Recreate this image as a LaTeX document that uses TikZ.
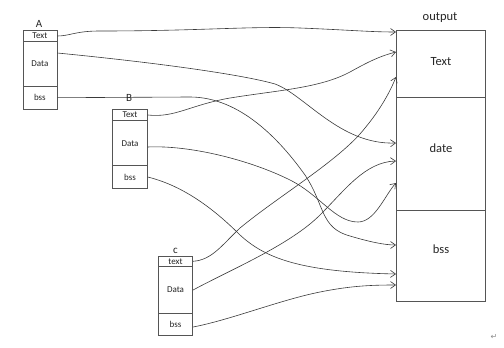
\documentclass[tikz,border=0pt]{standalone}
\usepackage{fontspec}
\setmainfont{Carlito}
\newfontfamily\symfont{DejaVu Sans}
\usetikzlibrary{arrows.meta}
\definecolor{boxc}{HTML}{555555}
\definecolor{linec}{HTML}{3A3A3A}
\tikzset{
  row/.style={draw=boxc, line width=0.8pt, fill=white, inner sep=0pt, font=\fontsize{9}{10}\selectfont, text=black!85},
  orow/.style={draw=boxc, line width=0.9pt, fill=white, inner sep=0pt, minimum width=89.4pt, font=\fontsize{12.5}{14}\selectfont, text=black!85},
  lbl/.style={inner sep=0pt, font=\fontsize{11}{12}\selectfont, text=black!85},
  conn/.style={draw=linec, line width=0.6pt, -{Straight Barb[length=5pt,width=7pt]}},
}
\begin{document}
\begin{tikzpicture}[x=1pt, y=-1pt]
\useasboundingbox (0,0) rectangle (504,348);
% box A
\node[row, minimum width=34pt, minimum height=10.6pt] (aT) at (39.9,36) {Text};
\node[row, minimum width=34pt, minimum height=45pt] (aD) at (39.9,63.8) {Data};
\node[row, minimum width=34pt, minimum height=22.7pt] (aB) at (39.9,97.7) {bss};
\node[lbl] (la) at (39,24) {A};
% box B
\node[row, minimum width=34.6pt, minimum height=11.4pt] (bT) at (130,115) {Text};
\node[row, minimum width=34.6pt, minimum height=45pt] (bD) at (130,143.2) {Data};
\node[row, minimum width=34.6pt, minimum height=22.6pt] (bB) at (130,177) {bss};
% box C
\node[row, minimum width=34.4pt, minimum height=10.7pt] (cT) at (175.5,261.3) {text};
\node[row, minimum width=34.4pt, minimum height=46.6pt] (cD) at (175.5,290) {Data};
\node[row, minimum width=34.4pt, minimum height=21.7pt] (cB) at (175.5,324.2) {bss};
\node[lbl] (lc) at (175.5,251) {c};
% output
\node[orow, minimum height=67pt] (oT) at (441,64.2) {};
\node[orow, minimum height=113pt] (oD) at (441,154.2) {};
\node[orow, minimum height=91pt] (oB) at (441,256.2) {};
\node[lbl, font=\fontsize{12.5}{14}\selectfont] (oTt) at (441,62) {Text};
\node[lbl, font=\fontsize{12.5}{14}\selectfont] (oDt) at (441,148) {date};
\node[lbl, font=\fontsize{12.5}{14}\selectfont] (oBt) at (441,249) {bss};
\node[lbl, font=\fontsize{12.5}{14}\selectfont] (lo) at (440,18) {output};
\node[lbl, font=\symfont\fontsize{8}{9}\selectfont, text=black!45] (ret) at (494,337) {↵};
% end points on output edge
\coordinate (e1) at (396,32);
\coordinate (e2) at (396,52);
\coordinate (e3) at (396,77);
\coordinate (e4) at (396,143);
\coordinate (e5) at (396,161);
\coordinate (e6) at (396,183);
\coordinate (e7) at (396,245);
\coordinate (e8) at (396,274);
\coordinate (e9) at (396,285);
% connectors
\draw[conn] (aT.east) .. controls (70,36) and (75,31) .. (100,31) .. controls (200,31) and (250,26) .. (300,28) .. controls (350,30) and (370,32) .. (e1);
\draw[conn] (aD.east |- 0,53) .. controls (150,62) and (240,74) .. (275,84) .. controls (305,95) and (340,145) .. (e4);
\draw[conn] (aB.east) -- (190,97) .. controls (240,97) and (280,140) .. (305,175) .. controls (325,205) and (320,228) .. (350,236) .. controls (370,242) and (385,245) .. (e7);
\node[lbl] (lb) at (129,98) {B};
\draw[conn] (bT.east) .. controls (175,118) and (190,105) .. (230,98) .. controls (280,90) and (320,88) .. (350,72) .. controls (368,62) and (380,56) .. (e2);
\draw[conn] (bD.east |- 0,147) .. controls (190,145) and (250,160) .. (290,180) .. controls (320,195) and (335,222) .. (358,222) .. controls (375,222) and (385,195) .. (e6);
\draw[conn] (bB.east) .. controls (180,185) and (210,205) .. (240,235) .. controls (265,258) and (300,272) .. (e8);
\draw[conn] (cT.east) .. controls (212,260) and (222,245) .. (240,228) .. controls (280,195) and (340,160) .. (365,128) .. controls (380,110) and (390,92) .. (e3);
\draw[conn] (cD.east) .. controls (230,270) and (290,245) .. (320,215) .. controls (345,190) and (365,162) .. (e5);
\draw[conn] (cB.east |- 0,327) .. controls (230,320) and (280,300) .. (320,292) .. controls (350,286) and (370,285) .. (e9);
\end{tikzpicture}
\end{document}
